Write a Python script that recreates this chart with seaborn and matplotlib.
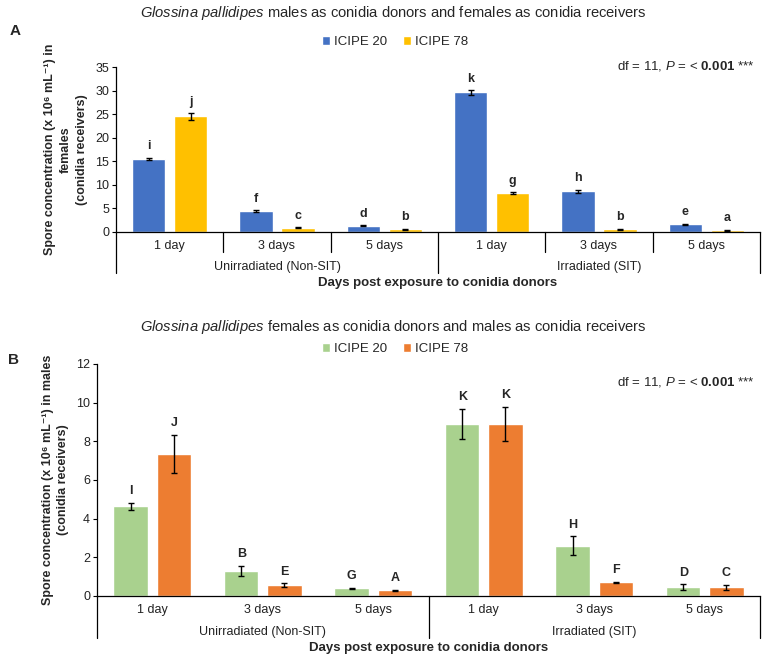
"""
Spore concentration in conidia receivers - two panels
"""
import matplotlib
matplotlib.use("Agg")
import matplotlib.pyplot as plt
import matplotlib.transforms as mtransforms
import seaborn as sns
import pandas as pd

sns.set_theme(style="white")
plt.rcParams['font.family'] = ['Liberation Sans', 'DejaVu Sans']
plt.rcParams['mathtext.fontset'] = 'custom'
plt.rcParams['mathtext.rm'] = 'Liberation Sans'
plt.rcParams['mathtext.it'] = 'Liberation Sans:italic'
plt.rcParams['mathtext.bf'] = 'Liberation Sans:bold'

# Data
days = ['1 day', '3 days', '5 days']
treatments = ['Unirradiated (Non-SIT)', 'Irradiated (SIT)']
strains = ['ICIPE 20', 'ICIPE 78']

# Panel A: males donors, females receivers
a_icipe20 = [15.5, 4.4, 1.3, 29.6, 8.6, 1.6]
a_icipe78 = [24.5, 0.9, 0.6, 8.2, 0.6, 0.4]
a_err20 = [0.2, 0.2, 0.1, 0.5, 0.35, 0.15]
a_err78 = [0.7, 0.1, 0.1, 0.2, 0.1, 0.1]
a_letters20 = ['i', 'f', 'd', 'k', 'h', 'e']
a_letters78 = ['j', 'c', 'b', 'g', 'b', 'a']

# Panel B: females donors, males receivers
b_icipe20 = [4.65, 1.3, 0.4, 8.9, 2.6, 0.45]
b_icipe78 = [7.35, 0.55, 0.3, 8.9, 0.7, 0.45]
b_err20 = [0.18, 0.25, 0.03, 0.78, 0.5, 0.15]
b_err78 = [0.98, 0.1, 0.03, 0.9, 0.05, 0.13]
b_letters20 = ['I', 'B', 'G', 'K', 'H', 'D']
b_letters78 = ['J', 'E', 'A', 'K', 'F', 'C']

W, H = 767, 658


def build_frame(v20, v78):
    cats = [f"{t}|{d}" for t in treatments for d in days]
    rows = []
    for s, vals in zip(strains, [v20, v78]):
        for c, v in zip(cats, vals):
            rows.append({'cat': c, 'strain': s, 'value': v})
    return pd.DataFrame(rows), cats


def draw_panel(fig, rect, v20, v78, e20, e78, l20, l78, colors, ymax, ystep,
               ylabel, title, title_y, legend_y, panel, panel_xy, df_y,
               short_lines, txt_off, lspace):
    ax = fig.add_axes(rect)
    df, cats = build_frame(v20, v78)
    sns.barplot(data=df, x='cat', y='value', hue='strain', order=cats,
                hue_order=strains, palette=colors, width=0.78, gap=0.2,
                saturation=1, errorbar=None, ax=ax, legend=True)
    ax.set_xlim(-0.5, 5.5)
    ax.set_ylim(0, ymax)
    ax.set_yticks(range(0, ymax + 1, ystep))
    ax.tick_params(axis='y', labelsize=9, length=3, width=0.8, color='black',
                   left=True, pad=2, labelcolor='#222222')
    ax.set_xticks([])
    ax.set_xlabel('')
    ax.set_ylabel(ylabel, fontsize=9, fontweight='bold', labelpad=5,
                  linespacing=lspace)
    for sp in ['top', 'right']:
        ax.spines[sp].set_visible(False)
    for sp in ['left', 'bottom']:
        ax.spines[sp].set_color('black')
        ax.spines[sp].set_linewidth(0.9)

    # error bars and letters
    n = len(cats)
    patches = ax.patches[:2 * n]
    vals = list(v20) + list(v78)
    errs = list(e20) + list(e78)
    letters = list(l20) + list(l78)
    for p, v, e, lt in zip(patches, vals, errs, letters):
        xc = p.get_x() + p.get_width() / 2
        ax.errorbar(xc, v, yerr=e, color='black', capsize=2.5, elinewidth=1,
                    capthick=1)
        ax.annotate(lt, (xc, v + e), xytext=(0, 4), textcoords='offset points',
                    ha='center', va='bottom', fontsize=9, fontweight='bold')

    # hierarchical x axis
    trans = mtransforms.blended_transform_factory(ax.transData, ax.transAxes)
    for x in [-0.5, 2.5, 5.5]:
        ax.plot([x, x], [0, -txt_off['long']], transform=trans, color='black',
                lw=0.9, clip_on=False)
    if short_lines:
        for x in [0.5, 1.5, 3.5, 4.5]:
            ax.plot([x, x], [0, -txt_off['short']], transform=trans,
                    color='black', lw=0.9, clip_on=False)
    for i in range(n):
        ax.text(i, -txt_off['day'], days[i % 3], transform=trans, ha='center',
                va='center', fontsize=9, color='#222222')
    for j, t in enumerate(treatments):
        ax.text(1 + 3 * j, -txt_off['group'], t, transform=trans, ha='center',
                va='center', fontsize=9, color='#222222')
    ax.text(2.5, -txt_off['xlabel'], 'Days post exposure to conidia donors',
            transform=trans, ha='center', va='center', fontsize=9.5,
            fontweight='bold')

    fig.text(393 / W, 1 - title_y / H, title, ha='center', va='center',
             fontsize=10.6)
    ax.legend(loc='center', bbox_to_anchor=(395 / W, 1 - legend_y / H),
              bbox_transform=fig.transFigure, ncol=2, frameon=False,
              fontsize=9.5, handlelength=0.6, handleheight=0.6,
              handletextpad=0.3, columnspacing=1.2)
    fig.text(panel_xy[0] / W, 1 - panel_xy[1] / H, panel, fontsize=11,
             fontweight='bold', ha='left', va='center')
    fig.text(755 / W, 1 - df_y / H,
             r'df = 11, $\it{P}$ = < $\bf{0.001}$ ***', ha='right',
             va='center', fontsize=9.5)
    return ax


fig = plt.figure(figsize=(W / 100, H / 100), dpi=100)

draw_panel(fig, [116 / W, 1 - 232 / H, (760 - 116) / W, (232 - 67) / H],
           a_icipe20, a_icipe78, a_err20, a_err78, a_letters20, a_letters78,
           ['#4472C4', '#FFC000'], 35, 5,
           'Spore concentration (x 10\u2076 mL\u207b\u00b9) in\nfemales\n(conidia receivers)',
           r'$\it{Glossina\ pallidipes}$ males as conidia donors and females as conidia receivers',
           13, 42, 'A', (10, 31), 66, True,
           {'long': 41 / 165, 'short': 20 / 165, 'day': 14 / 165,
            'group': 35 / 165, 'xlabel': 51 / 165}, 1.45)

draw_panel(fig, [97 / W, 1 - 596 / H, (760 - 97) / W, (596 - 364) / H],
           b_icipe20, b_icipe78, b_err20, b_err78, b_letters20, b_letters78,
           ['#A9D18E', '#ED7D31'], 12, 2,
           'Spore concentration (x 10\u2076 mL\u207b\u00b9) in males\n(conidia receivers)',
           r'$\it{Glossina\ pallidipes}$ females as conidia donors and males as conidia receivers',
           327, 349, 'B', (8, 360), 382, False,
           {'long': 42 / 232, 'short': 0, 'day': 14 / 232,
            'group': 36 / 232, 'xlabel': 52 / 232}, 1.3)

plt.savefig('out.png', dpi=100)
plt.close()
